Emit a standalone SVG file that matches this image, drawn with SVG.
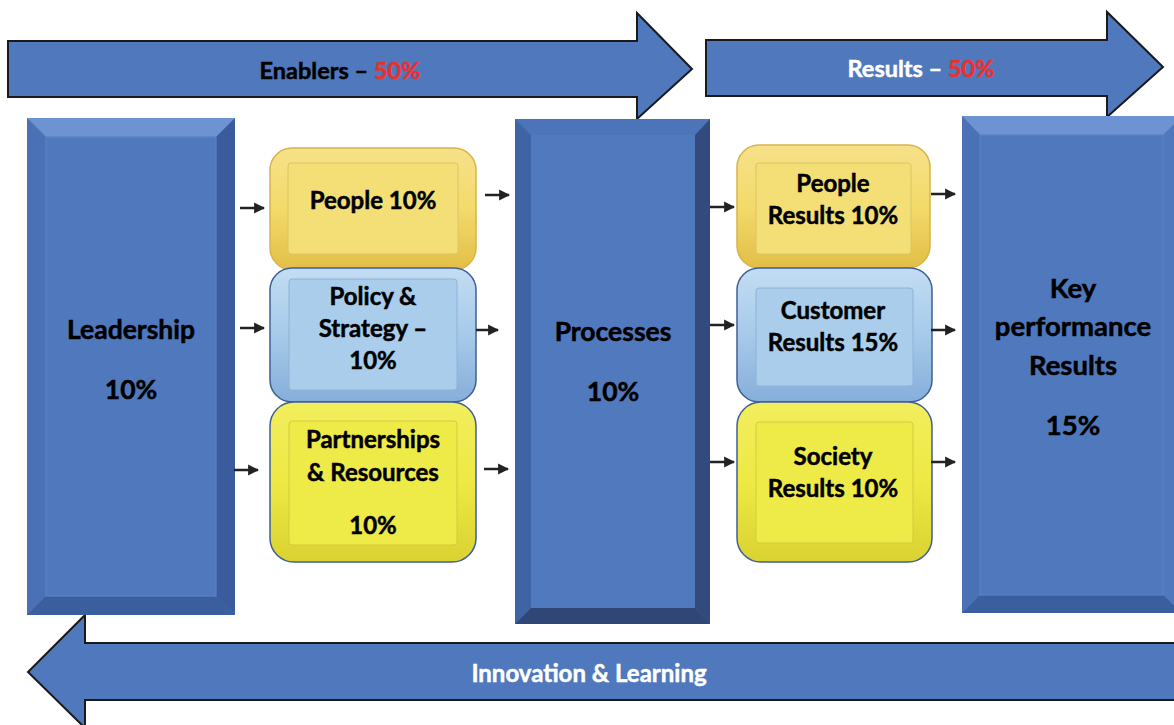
<svg xmlns="http://www.w3.org/2000/svg" width="1174" height="725" viewBox="0 0 1174 725">
<defs>
<style>
.big{fill:#4F78BD;stroke:#1a1a1a;stroke-width:2;}
.t{font-family:Lato,"Liberation Sans",sans-serif;font-weight:bold;text-anchor:middle;fill:#000;stroke:#000;stroke-width:0.5;}
.w{fill:#fff;stroke:#fff;}
.r{fill:#E8312F;stroke:#E8312F;}
.conn{stroke:#222;stroke-width:2.5;fill:none;}
</style>
<marker id="ah" viewBox="0 0 10 10" refX="9" refY="5" markerWidth="11" markerHeight="13" orient="auto" markerUnits="userSpaceOnUse">
<path d="M0,0 L10,5 L0,10 z" fill="#222"/>
</marker>
<linearGradient id="gold" x1="0" y1="0" x2="0" y2="1">
<stop offset="0" stop-color="#F7E189"/><stop offset="0.5" stop-color="#F3DA6A"/><stop offset="1" stop-color="#E2BE47"/>
</linearGradient>
<linearGradient id="lblue" x1="0" y1="0" x2="0" y2="1">
<stop offset="0" stop-color="#C3DDF3"/><stop offset="0.5" stop-color="#A6CAEA"/><stop offset="1" stop-color="#86AEDA"/>
</linearGradient>
<linearGradient id="yel" x1="0" y1="0" x2="0" y2="1">
<stop offset="0" stop-color="#F2EE5E"/><stop offset="0.5" stop-color="#EEE944"/><stop offset="1" stop-color="#D9D232"/>
</linearGradient>
</defs>

<g id="enablers-arrow">
<path class="big" d="M8,41 L637,41 L637,13 L692,69 L637,119 L637,97 L8,97 Z"/>
<text class="t" x="340" y="79" font-size="23.5">Enablers – <tspan class="r">50%</tspan></text>
</g>
<g id="results-arrow">
<path class="big" d="M706,40 L1107,40 L1107,12 L1163,67 L1107,117 L1107,96 L706,96 Z"/>
<text class="t w" x="921" y="77" font-size="23.5">Results – <tspan class="r">50%</tspan></text>
</g>
<g id="innovation-arrow">
<path class="big" d="M1176,643 L85,643 L85,615 L28,672 L85,728 L85,700 L1176,700 Z"/>
<text class="t w" x="589" y="682" font-size="24">Innovation &amp; Learning</text>
</g>

<g id="leadership">
<rect x="27" y="118" width="208" height="497" fill="#4F78BD"/>
<polygon points="27,118 235,118 216,137 46,137" fill="#6E93D3"/>
<polygon points="27,118 46,137 46,596 27,615" fill="#4A70B6"/>
<polygon points="235,118 235,615 216,596 216,137" fill="#3A5C9C"/>
<polygon points="27,615 46,596 216,596 235,615" fill="#3B5E9E"/>
<rect x="46" y="137" width="170" height="459" fill="#4F78BD" stroke="#5B82C5" stroke-width="1.2"/>
<text class="t" x="131" y="339" font-size="26.5">Leadership</text>
<text class="t" x="131" y="399" font-size="26.5">10%</text>
</g>

<g id="processes">
<rect x="515" y="119" width="195" height="505" fill="#4F78BD"/>
<polygon points="515,119 710,119 695,135 531,135" fill="#4C74B9"/>
<polygon points="515,119 531,135 531,608 515,624" fill="#3F64A5"/>
<polygon points="710,119 710,624 695,608 695,135" fill="#324A7C"/>
<polygon points="515,624 531,608 695,608 710,624" fill="#2F4676"/>
<rect x="531" y="135" width="164" height="473" fill="#5079BE"/>
<text class="t" x="613" y="341" font-size="26.5">Processes</text>
<text class="t" x="613" y="401" font-size="26.5">10%</text>
</g>

<g id="kpr">
<rect x="962" y="116" width="220" height="497" fill="#4F78BD"/>
<polygon points="962,116 1182,116 1163,135 980,135" fill="#6E93D3"/>
<polygon points="962,116 980,135 980,595 962,613" fill="#4A70B6"/>
<polygon points="962,613 980,595 1163,595 1182,613" fill="#3B5E9E"/>
<rect x="980" y="135" width="183" height="460" fill="#4F78BD" stroke="#5B82C5" stroke-width="1.2"/>
<text class="t" x="1073" y="298" font-size="27.5">Key</text>
<text class="t" x="1073" y="336" font-size="27.5">performance</text>
<text class="t" x="1073" y="375" font-size="27.5">Results</text>
<text class="t" x="1073" y="435" font-size="27.5">15%</text>
</g>

<g id="people">
<rect x="270" y="148" width="206" height="122" rx="22" fill="url(#gold)" stroke="#D8B448" stroke-width="1.5"/>
<rect x="288" y="163" width="170" height="91" rx="3" fill="#F3DF76" stroke="#D9C466" stroke-width="1"/>
<text class="t" x="373" y="209" font-size="24">People 10%</text>
</g>
<g id="policy">
<rect x="270" y="268" width="206" height="134" rx="22" fill="url(#lblue)" stroke="#3F5F96" stroke-width="1.5"/>
<rect x="289" y="279" width="168" height="111" rx="3" fill="#A9CDEB" stroke="#8FB2D6" stroke-width="1"/>
<text class="t" x="373" y="305" font-size="24">Policy &amp;</text>
<text class="t" x="373" y="337" font-size="24">Strategy –</text>
<text class="t" x="373" y="369" font-size="24">10%</text>
</g>
<g id="partnerships">
<rect x="270" y="402" width="206" height="160" rx="24" fill="url(#yel)" stroke="#3F5F96" stroke-width="1.5"/>
<rect x="289" y="421" width="168" height="124" rx="3" fill="#EEEA47" stroke="#D2CC3C" stroke-width="1"/>
<text class="t" x="373" y="448" font-size="24">Partnerships</text>
<text class="t" x="373" y="481" font-size="24">&amp; Resources</text>
<text class="t" x="373" y="534" font-size="24">10%</text>
</g>

<g id="people-results">
<rect x="737" y="145" width="193" height="123" rx="22" fill="url(#gold)" stroke="#D8B448" stroke-width="1.5"/>
<rect x="756" y="163" width="155" height="91" rx="3" fill="#F3DF76" stroke="#D9C466" stroke-width="1"/>
<text class="t" x="833" y="192" font-size="24">People</text>
<text class="t" x="833" y="224" font-size="24">Results 10%</text>
</g>
<g id="customer-results">
<rect x="737" y="268" width="195" height="134" rx="22" fill="url(#lblue)" stroke="#3F5F96" stroke-width="1.5"/>
<rect x="756" y="288" width="157" height="98" rx="3" fill="#A9CDEB" stroke="#8FB2D6" stroke-width="1"/>
<text class="t" x="833" y="319" font-size="24">Customer</text>
<text class="t" x="833" y="351" font-size="24">Results 15%</text>
</g>
<g id="society-results">
<rect x="737" y="402" width="195" height="160" rx="24" fill="url(#yel)" stroke="#3F5F96" stroke-width="1.5"/>
<rect x="756" y="422" width="157" height="121" rx="3" fill="#EEEA47" stroke="#D2CC3C" stroke-width="1"/>
<text class="t" x="833" y="465" font-size="24">Society</text>
<text class="t" x="833" y="497" font-size="24">Results 10%</text>
</g>

<g id="connectors">
<line class="conn" x1="240" y1="208" x2="264" y2="208" marker-end="url(#ah)"/>
<line class="conn" x1="240" y1="328" x2="264" y2="328" marker-end="url(#ah)"/>
<line class="conn" x1="234" y1="470" x2="258" y2="470" marker-end="url(#ah)"/>
<line class="conn" x1="485" y1="195" x2="509" y2="195" marker-end="url(#ah)"/>
<line class="conn" x1="476" y1="330" x2="498" y2="330" marker-end="url(#ah)"/>
<line class="conn" x1="484" y1="469" x2="508" y2="469" marker-end="url(#ah)"/>
<line class="conn" x1="710" y1="207" x2="734" y2="207" marker-end="url(#ah)"/>
<line class="conn" x1="710" y1="325" x2="734" y2="325" marker-end="url(#ah)"/>
<line class="conn" x1="710" y1="462" x2="734" y2="462" marker-end="url(#ah)"/>
<line class="conn" x1="931" y1="194" x2="955" y2="194" marker-end="url(#ah)"/>
<line class="conn" x1="931" y1="330" x2="955" y2="330" marker-end="url(#ah)"/>
<line class="conn" x1="931" y1="462" x2="955" y2="462" marker-end="url(#ah)"/>
</g>
</svg>
